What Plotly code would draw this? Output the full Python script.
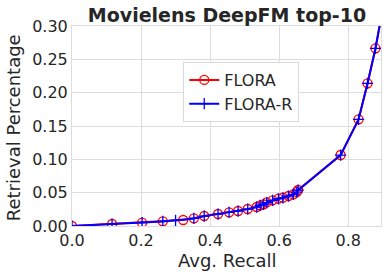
import plotly.graph_objects as go

flora_x = [0.0, 0.116, 0.203, 0.263, 0.322, 0.353, 0.383, 0.423, 0.455, 0.481, 0.509, 0.535,
           0.545, 0.555, 0.564, 0.581, 0.598, 0.611, 0.627, 0.641, 0.651, 0.655,
           0.778, 0.830, 0.856, 0.879, 0.905]
flora_y = [0.0, 0.003, 0.005, 0.007, 0.009, 0.0115, 0.015, 0.018, 0.0205, 0.0225, 0.0255, 0.0285,
           0.031, 0.0325, 0.0355, 0.0385, 0.041, 0.0425, 0.045, 0.0475, 0.051, 0.054,
           0.1065, 0.160, 0.214, 0.2665, 0.34]
florar_x = [0.0, 0.116, 0.203, 0.263, 0.300, 0.353, 0.383, 0.423, 0.455, 0.481, 0.509, 0.535,
            0.545, 0.555, 0.564, 0.581, 0.598, 0.611, 0.627, 0.641, 0.651, 0.655,
            0.778, 0.830, 0.856, 0.879, 0.905]
florar_y = [0.0, 0.0028, 0.005, 0.0068, 0.0085, 0.0113, 0.0148, 0.0178, 0.0203, 0.0223, 0.0253, 0.0283,
            0.0308, 0.0323, 0.0352, 0.0383, 0.0408, 0.0423, 0.0448, 0.0473, 0.0508, 0.0538,
            0.1063, 0.1598, 0.2138, 0.2663, 0.34]

x_ticks = [0.0, 0.2, 0.4, 0.6, 0.8]
y_ticks = [0.00, 0.05, 0.10, 0.15, 0.20, 0.25, 0.30]

fig = go.Figure()
fig.add_trace(go.Scatter(x=flora_x, y=flora_y, name="FLORA", mode="lines+markers",
                         line=dict(color="red", width=2),
                         marker=dict(symbol="circle-open", size=9, color="red", line=dict(width=1.3))))
fig.add_trace(go.Scatter(x=florar_x, y=florar_y, name="FLORA-R", mode="lines+markers",
                         line=dict(color="blue", width=2),
                         marker=dict(symbol="cross-thin-open", size=8, color="blue", line=dict(width=1.3))))

font = "DejaVu Sans"
fig.update_layout(
    width=388, height=278,
    margin=dict(l=72, r=7, t=26, b=52),
    paper_bgcolor="white", plot_bgcolor="white",
    font=dict(family=font, color="#262626", size=16),
    title=dict(text="<b>Movielens DeepFM top-10</b>", x=0.585, xanchor="center",
               y=0.970, yanchor="top", yref="container",
               font=dict(family=font, size=19, color="#262626")),
    legend=dict(x=0.36, y=0.82, xanchor="left", yanchor="top", bgcolor="white",
                bordercolor="#d9d9d9", borderwidth=1, font=dict(size=16, family=font),
                itemwidth=30, tracegroupgap=0),
    showlegend=True,
    annotations=[
        dict(text="Avg. Recall", xref="paper", yref="paper", x=0.5, y=-0.17,
             xanchor="center", yanchor="middle", showarrow=False,
             font=dict(size=18, family=font, color="#262626")),
        dict(text="Retrieval Percentage", xref="paper", yref="paper", x=-0.19, y=0.49,
             xanchor="center", yanchor="middle", textangle=-90, showarrow=False,
             font=dict(size=18, family=font, color="#262626")),
    ],
)
fig.update_xaxes(range=[0, 0.895], tickvals=x_ticks, ticktext=[f"{v:.1f}" for v in x_ticks],
                 showgrid=True, gridcolor="#dddddd", gridwidth=1, zeroline=False,
                 showline=True, linecolor="#dddddd", mirror=True, ticks="", automargin=False,
                 tickfont=dict(size=16, family=font))
fig.update_yaxes(range=[0, 0.30], tickvals=y_ticks, ticktext=[f"{v:.2f}" for v in y_ticks],
                 showgrid=True, gridcolor="#dddddd", gridwidth=1, zeroline=False,
                 showline=True, linecolor="#dddddd", mirror=True, ticks="", automargin=False,
                 tickfont=dict(size=16, family=font))
fig.write_html("out.html", config={"displayModeBar": False},
               post_script="document.body.style.margin='0';")
